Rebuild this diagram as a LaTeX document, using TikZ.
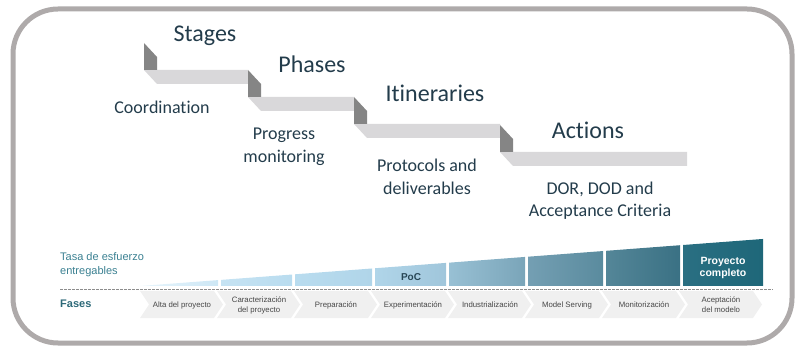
\documentclass[tikz,border=0pt]{standalone}
\usepackage{fontspec}
\setmainfont{Carlito}[Ligatures={NoCommon,NoRequired,NoContextual}]
\newfontfamily\arialf{Liberation Sans}
\definecolor{framegray}{RGB}{174,170,170}
\definecolor{tabgray}{RGB}{133,133,133}
\definecolor{bandgray}{RGB}{217,216,218}
\definecolor{titlecol}{RGB}{35,60,75}
\definecolor{tealtxt}{RGB}{58,128,145}
\definecolor{fasescol}{RGB}{45,105,120}
\definecolor{chevfill}{RGB}{240,240,240}
\definecolor{chevtxt}{RGB}{70,70,70}
\definecolor{poctxt}{RGB}{40,70,85}
\definecolor{dashgray}{RGB}{140,140,140}
\definecolor{ba}{RGB}{232,245,252}
\definecolor{bb}{RGB}{205,231,245}
\definecolor{bc}{RGB}{198,227,243}
\definecolor{bd}{RGB}{185,220,239}
\definecolor{be}{RGB}{176,213,233}
\definecolor{bf}{RGB}{160,198,219}
\definecolor{bg}{RGB}{152,192,212}
\definecolor{bh}{RGB}{122,165,185}
\definecolor{bi}{RGB}{116,159,179}
\definecolor{bj}{RGB}{90,139,158}
\definecolor{bk}{RGB}{84,134,152}
\definecolor{bl}{RGB}{58,113,132}
\definecolor{bm}{RGB}{42,111,130}
\definecolor{bn}{RGB}{30,103,121}
\begin{document}
\begin{tikzpicture}[x=1pt,y=-1pt,
  title/.style={text=titlecol, font=\fontsize{24}{28}\selectfont, inner sep=0pt, anchor=base},
  sublabel/.style={text=titlecol, font=\fontsize{18}{22.5}\selectfont, align=center, inner sep=0pt},
  chevlabel/.style={text=chevtxt, font=\arialf\fontsize{7.8}{10}\selectfont, align=center, inner sep=0pt},
  axislabel/.style={text=tealtxt, font=\arialf\fontsize{11}{14}\selectfont, align=left, inner sep=0pt, anchor=west}]
\useasboundingbox (0,0) rectangle (795,347);
% frame
\draw[framegray, line width=5pt, rounded corners=45pt] (13,9) rectangle (792,343);
% staircase bands
\foreach \xa/\ya/\xb in {144/43/248, 248/70/354, 354/97/500, 500/125/687} {
  \fill[bandgray] (\xa,\ya+27) -- (\xb,\ya+27) -- (\xb,\ya+41) -- (\xa+13,\ya+41) -- cycle;
}
\foreach \xa/\ya in {144/43, 248/70, 354/97, 500/125} {
  \fill[tabgray] (\xa,\ya) -- (\xa+13,\ya+14) -- (\xa+13,\ya+27) -- (\xa,\ya+27) -- cycle;
}
% titles
\node[title] (stages) at (205,42) {Stages};
\node[title] (phases) at (312,73) {Phases};
\node[title] (itin) at (435,102) {Itineraries};
\node[title] (actions) at (588,139) {Actions};
% sub labels
\node[sublabel] (coord) at (162,107) {Coordination};
\node[sublabel] (progress) at (284,147) {Progress\\monitoring};
\node[sublabel] (protocols) at (427,177) {Protocols and\\deliverables};
\node[sublabel] (dor) at (600,200.5) {DOR, DOD and\\Acceptance Criteria};
% effort bars
\foreach \xa/\xb/\ca/\cb in {140/218/ba/bb, 221/292/bc/bd, 295/372/bd/be, 375/446/be/bf, 449/525/bg/bh, 528/603/bi/bj, 606/680/bk/bl, 683/763/bm/bn} {
  \shade[left color=\ca, right color=\cb] (\xa,286) -- (\xb,286) -- (\xb,{286-0.0755*(\xb-140)}) -- (\xa,{286-0.0755*(\xa-140)}) -- cycle;
}
\node[text=poctxt, font=\arialf\bfseries\fontsize{10}{12}\selectfont, inner sep=0pt] (poc) at (411,277) {PoC};
\node[text=white, font=\arialf\bfseries\fontsize{10.5}{12}\selectfont, align=center, inner sep=0pt] (completo) at (723,268) {Proyecto\\completo};
% axis labels
\node[axislabel] (tasa) at (60,265) {Tasa de esfuerzo\\entregables};
\node[axislabel, text=fasescol, font=\arialf\bfseries\fontsize{11}{14}\selectfont] (fases) at (60,303.5) {Fases};
% dashed line
\coordinate (dl) at (60,289);
\coordinate (dr) at (773,289);
\draw[dashgray, line width=0.8pt, dash pattern=on 2.5pt off 1.5pt] (dl) -- (dr);
% chevrons
\foreach \i in {0,...,7} {
  \pgfmathsetmacro{\xs}{140+77*\i}
  \fill[chevfill] (\xs,291) -- (\xs+74,291) -- (\xs+83,304.5) -- (\xs+74,318) -- (\xs,318) -- (\xs+9,304.5) -- cycle;
}
\node[chevlabel] (c1) at (182,305) {Alta del proyecto};
\node[chevlabel] (c2) at (259,305) {Caracterización\\del proyecto};
\node[chevlabel] (c3) at (336,305) {Preparación};
\node[chevlabel] (c4) at (413,305) {Experimentación};
\node[chevlabel] (c5) at (490,305) {Industrialización};
\node[chevlabel] (c6) at (567,305) {Model Serving};
\node[chevlabel] (c7) at (644,305) {Monitorización};
\node[chevlabel] (c8) at (721,305) {Aceptación\\del modelo};
\end{tikzpicture}
\end{document}
